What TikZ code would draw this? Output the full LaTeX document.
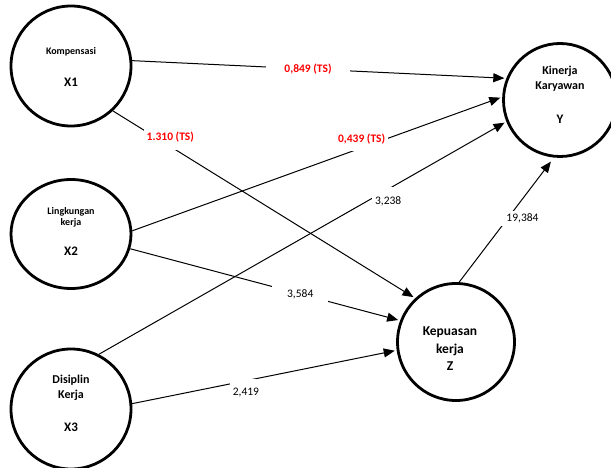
\documentclass[tikz,border=0pt]{standalone}
\usepackage{fontspec}
\setmainfont{Carlito}
\usetikzlibrary{arrows.meta, shapes.geometric}

\tikzset{
  latent/.style={circle, draw, line width=2.8pt, minimum size=120pt, inner sep=0pt},
  link/.style={line width=1pt, shorten >=2pt, -{Triangle[length=11pt,width=9pt]}},
  coef/.style={fill=white, inner sep=3pt, font=\fontsize{11.5}{13}\selectfont},
  sig/.style={coef, text=red, font=\bfseries\fontsize{11.5}{13}\selectfont},
  cname/.style={align=center, font=\bfseries\fontsize{10}{11}\selectfont},
  ccode/.style={font=\bfseries\fontsize{13}{15}\selectfont}
}

\begin{document}
\begin{tikzpicture}[x=1pt, y=-1pt]
\useasboundingbox (0,0) rectangle (611,468);

\node[latent] (x1) at (71,66) {};
\node[latent, ellipse, minimum height=109pt] (x2) at (71,234) {};
\node[latent] (x3) at (71,409) {};
\node[latent, minimum size=113pt] (y) at (560,100) {};
\node[latent, minimum size=117pt] (z) at (456,342) {};

\node[cname] (x1name) at (71,52) {Kompensasi};
\node[ccode] (x1code) at (71,82) {X1};
\node[cname] (x2name) at (71,217) {Lingkungan\\kerja};
\node[ccode] (x2code) at (71,251) {X2};
\node[cname, font=\bfseries\fontsize{12}{15}\selectfont] (x3name) at (71,388) {Disiplin\\Kerja};
\node[ccode] (x3code) at (71,427) {X3};
\node[cname, font=\bfseries\fontsize{12}{15}\selectfont] (yname) at (560,79) {Kinerja\\Karyawan};
\node[ccode] (ycode) at (560,119) {Y};
\node[cname, font=\bfseries\fontsize{13.5}{17.5}\selectfont] (zname) at (450,349) {Kepuasan\\kerja\\Z};

\draw[link] (x1.5) -- node[sig, pos=0.47, inner xsep=18pt] (c1y) {0,849 (TS)} (y.158);
\draw[link] (x1.-47) -- node[sig, pos=0.19, yshift=9pt, inner ysep=7pt] (c1z) {1.310 (TS)} (z.133);
\draw[link] (x2.3) -- node[sig, pos=0.62, yshift=9pt, inner ysep=7pt] (c2y) {0,439 (TS)} (y.177);
\draw[link] (x2.-14) -- node[coef, pos=0.63, inner xsep=15pt] (c2z) {3,584} (z.159);
\draw[link] (x3.63) -- node[coef, pos=0.71, yshift=-12pt, inner ysep=9pt] (c3y) {3,238} (y.202);
\draw[link] (x3.5) -- node[coef, pos=0.43, yshift=-12pt, inner ysep=9pt] (c3z) {2,419} (z.188);
\draw[link, shorten >=5pt] (z.87) -- node[coef, pos=0.51, xshift=15pt, inner xsep=9pt] (czy) {19,384} (y.264);
\end{tikzpicture}
\end{document}
